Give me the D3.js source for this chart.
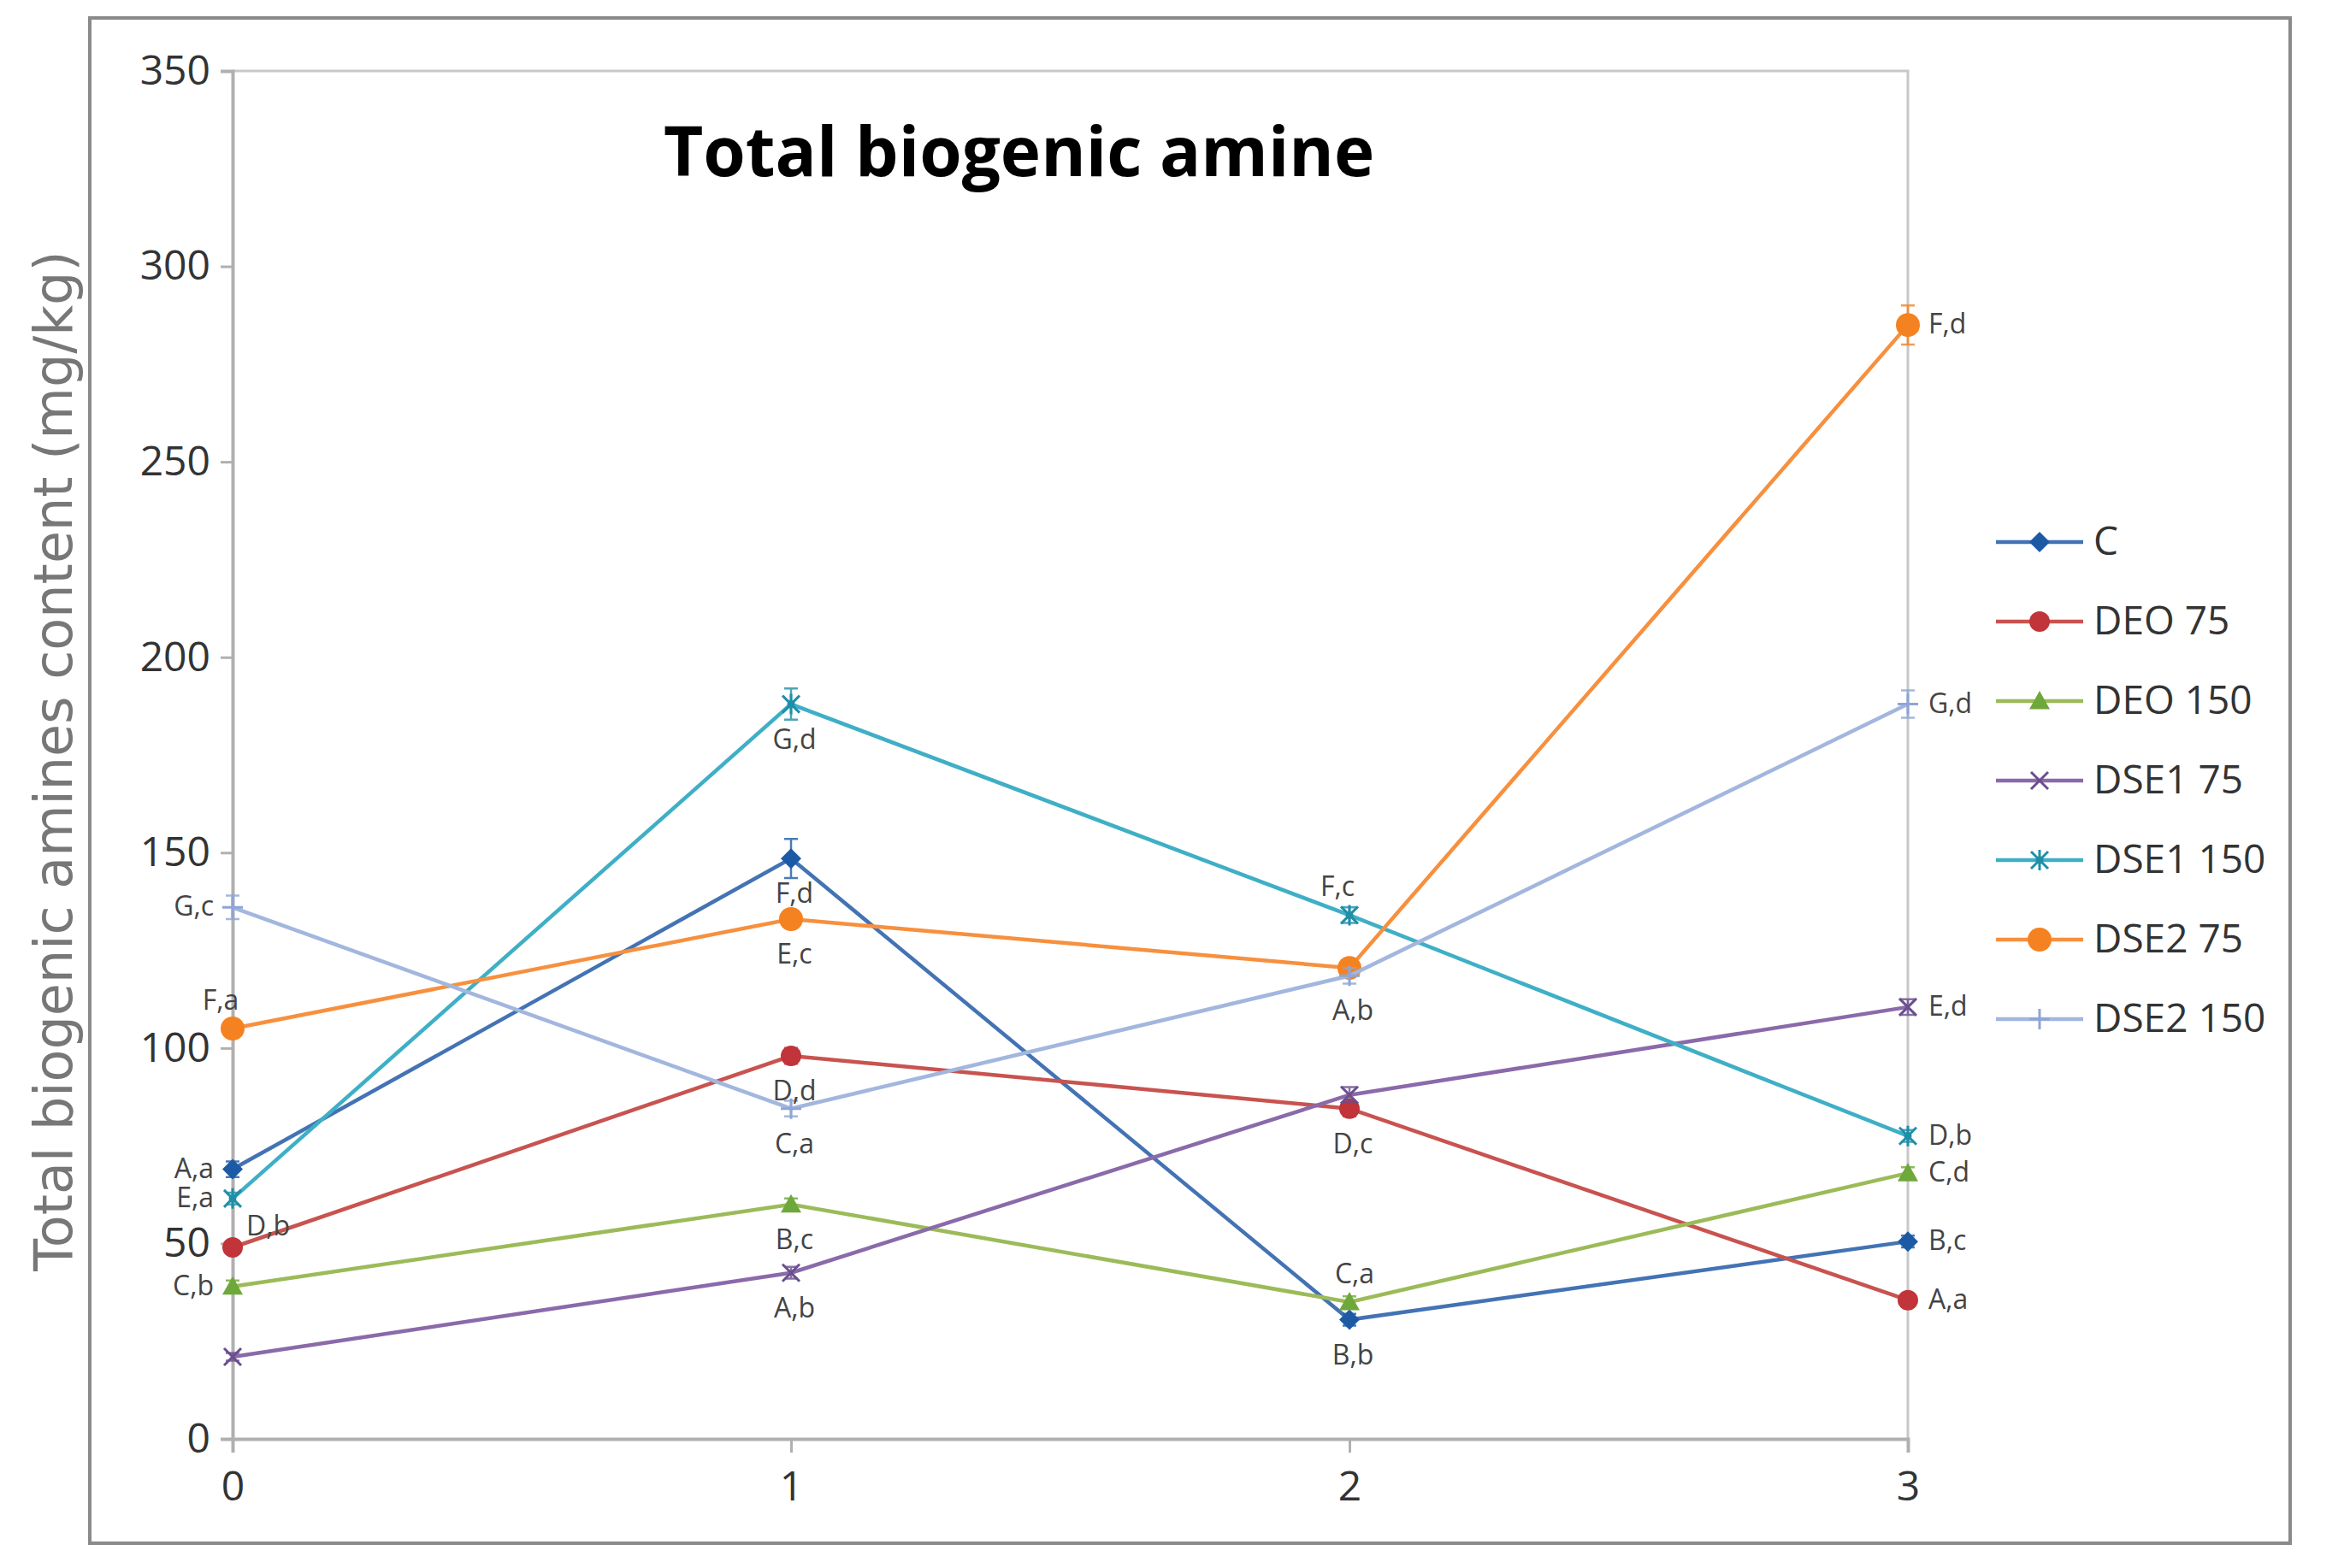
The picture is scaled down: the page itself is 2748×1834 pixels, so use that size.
<!DOCTYPE html>
<html lang="en">
<head>
<meta charset="UTF-8">
<title>Total biogenic amine</title>
<script src="https://cdn.jsdelivr.net/npm/d3@7"></script>
<style>
  body { margin: 0; background: #fff; }
  text { font-family: "Open Sans", sans-serif; }
</style>
</head>
<body>
<div id="chart"></div>
<script>
// storage time (x) and total biogenic amine values (mg/kg)
var times = [0, 1, 2, 3];
var yTicks = [0, 50, 100, 150, 200, 250, 300, 350];
var seriesNames = ["C", "DEO 75", "DEO 150", "DSE1 75", "DSE1 150", "DSE2 75", "DSE2 150"];

var valC       = [69, 148.5, 30.5, 50.5];
var valDEO75   = [49, 98, 84.5, 35.5];
var valDEO150  = [39, 60, 35, 68];
var valDSE175  = [21, 42.5, 88, 110.5];
var valDSE1150 = [61.5, 188, 134, 77.5];
var valDSE275  = [105, 133, 120.5, 285];
var valDSE2150 = [136, 84.5, 118.5, 188];

var errC       = [2, 5, 1.5, 1.5];
var errDEO75   = [1.5, 2, 2, 1.5];
var errDEO150  = [1.5, 1.5, 1.5, 1.5];
var errDSE175  = [1, 1.5, 2, 2];
var errDSE1150 = [1.5, 4, 2, 1.5];
var errDSE275  = [1.5, 2, 2, 5];
var errDSE2150 = [3, 2, 2, 3.5];

var lblC       = ["A,a", "F,d", "B,b", "B,c"];
var lblDEO75   = ["D,b", "D,d", "D,c", "A,a"];
var lblDEO150  = ["C,b", "B,c", "C,a", "C,d"];
var lblDSE175  = ["", "A,b", "", "E,d"];
var lblDSE1150 = ["E,a", "G,d", "F,c", "D,b"];
var lblDSE275  = ["F,a", "E,c", "", "F,d"];
var lblDSE2150 = ["G,c", "C,a", "A,b", "G,d"];

var values = [valC, valDEO75, valDEO150, valDSE175, valDSE1150, valDSE275, valDSE2150];
var errors = [errC, errDEO75, errDEO150, errDSE175, errDSE1150, errDSE275, errDSE2150];
var labels = [lblC, lblDEO75, lblDEO150, lblDSE175, lblDSE1150, lblDSE275, lblDSE2150];

// look of each series
var colors = ["#4373B4", "#C8534F", "#9BBB59", "#8A6AAA", "#3FAFC6", "#F7903E", "#A2B6DE"];
var markerColors = ["#1D5AA6", "#C0343A", "#6FA83A", "#6A4E8E", "#1F8FA8", "#F58220", "#8FA5D6"];
var markers = ["diamond", "circle", "triangle", "x", "star", "bigcircle", "plus"];
// where each point label sits: l = left, r = right, b = below, a = above, al = above-left, br = right of the point, a bit high
var place = [
  ["l", "b", "b", "r"],
  ["br", "b", "b", "r"],
  ["l", "b", "a", "r"],
  ["l", "b", "b", "r"],
  ["l", "b", "al", "r"],
  ["al", "b", "b", "r"],
  ["l", "b", "b", "r"]
];

var W = 2748, H = 1834;
var plotLeft = 272, plotRight = 2231, plotTop = 83, plotBottom = 1683;

var svg = d3.select("#chart").append("svg")
  .attr("width", W).attr("height", H);

// outer chart frame
svg.append("rect")
  .attr("x", 105).attr("y", 21)
  .attr("width", 2573).attr("height", 1784)
  .attr("fill", "#fff").attr("stroke", "#8a8a8a").attr("stroke-width", 4);

var x = d3.scaleLinear().domain([0, 3]).range([plotLeft, plotRight]);
var y = d3.scaleLinear().domain([0, 350]).range([plotBottom, plotTop]);

// plot area border (top & right)
svg.append("path")
  .attr("d", "M" + plotLeft + "," + plotTop + "H" + plotRight + "V" + plotBottom)
  .attr("fill", "none").attr("stroke", "#c8c8c8").attr("stroke-width", 3);

var yAxis = svg.append("g")
  .attr("transform", "translate(" + plotLeft + ",0)")
  .call(d3.axisLeft(y).tickValues(yTicks).tickSize(14).tickPadding(12));
var xAxis = svg.append("g")
  .attr("transform", "translate(0," + plotBottom + ")")
  .call(d3.axisBottom(x).tickValues(times).tickFormat(d3.format("d")).tickSize(16).tickPadding(22));

[yAxis, xAxis].forEach(function(a) {
  a.select(".domain").attr("stroke", "#b0b0b0").attr("stroke-width", 4);
  a.selectAll(".tick line").attr("stroke", "#b0b0b0").attr("stroke-width", 3);
  a.selectAll(".tick text").attr("fill", "#333").style("font-size", "48px")
    .style("font-family", "'Open Sans', sans-serif");
});

// title
svg.append("text")
  .attr("x", 776).attr("y", 206)
  .attr("font-size", 80).attr("font-weight", "bold").attr("fill", "#000")
  .text("Total biogenic amine");

// y axis title
svg.append("text")
  .attr("transform", "translate(84,890) rotate(-90)")
  .attr("text-anchor", "middle")
  .attr("font-size", 62).attr("fill", "#777")
  .style("font-family", "'DejaVu Sans', sans-serif")
  .text("Total biogenic amines content (mg/kg)");

function drawMarker(g, type, cx, cy, col) {
  if (type === "diamond") {
    var r = 12;
    g.append("path").attr("d", "M" + cx + "," + (cy - r) + "L" + (cx + r) + "," + cy + "L" + cx + "," + (cy + r) + "L" + (cx - r) + "," + cy + "Z")
      .attr("fill", col);
  } else if (type === "circle") {
    g.append("circle").attr("cx", cx).attr("cy", cy).attr("r", 12).attr("fill", col);
  } else if (type === "bigcircle") {
    g.append("circle").attr("cx", cx).attr("cy", cy).attr("r", 14).attr("fill", col);
  } else if (type === "triangle") {
    var t = 12;
    g.append("path").attr("d", "M" + cx + "," + (cy - t) + "L" + (cx + t) + "," + (cy + t * 0.8) + "L" + (cx - t) + "," + (cy + t * 0.8) + "Z")
      .attr("fill", col);
  } else if (type === "x" || type === "star") {
    var k = 10;
    var d = "M" + (cx - k) + "," + (cy - k) + "L" + (cx + k) + "," + (cy + k) + "M" + (cx - k) + "," + (cy + k) + "L" + (cx + k) + "," + (cy - k);
    if (type === "star") d += "M" + cx + "," + (cy - k * 1.2) + "V" + (cy + k * 1.2);
    g.append("path").attr("d", d).attr("stroke", col).attr("stroke-width", 3).attr("fill", "none");
    if (type === "star") g.append("circle").attr("cx", cx).attr("cy", cy).attr("r", 4.5).attr("fill", col);
  } else if (type === "plus") {
    var p = 12;
    g.append("path").attr("d", "M" + (cx - p) + "," + cy + "H" + (cx + p) + "M" + cx + "," + (cy - p) + "V" + (cy + p))
      .attr("stroke", col).attr("stroke-width", 3);
  }
}

var line = d3.line()
  .x(function(d, i) { return x(times[i]); })
  .y(function(d) { return y(d); });

var plot = svg.append("g");

values.forEach(function(vals, si) {
  var g = plot.append("g");
  g.append("path").datum(vals)
    .attr("d", line)
    .attr("fill", "none").attr("stroke", colors[si]).attr("stroke-width", 4.5);

  // error bars
  vals.forEach(function(v, i) {
    var e = errors[si][i], cx = x(times[i]);
    g.append("path")
      .attr("d", "M" + cx + "," + y(v - e) + "V" + y(v + e) +
                 "M" + (cx - 8) + "," + y(v + e) + "H" + (cx + 8) +
                 "M" + (cx - 8) + "," + y(v - e) + "H" + (cx + 8))
      .attr("stroke", markerColors[si]).attr("stroke-width", 2.5).attr("fill", "none").attr("opacity", 0.8);
  });

  vals.forEach(function(v, i) {
    drawMarker(g, markers[si], x(times[i]), y(v), markerColors[si]);
  });
});

// point labels
values.forEach(function(vals, si) {
  vals.forEach(function(v, i) {
    var txt = labels[si][i];
    if (!txt) return;
    var cx = x(times[i]), cy = y(v), p = place[si][i];
    var dx = 0, dy = 0, anchor = "middle";
    if (p === "l") { dx = -22; dy = 10; anchor = "end"; }
    if (p === "r") { dx = 24; dy = 10; anchor = "start"; }
    if (p === "b") { dx = 4; dy = 52; }
    if (p === "a") { dx = 6; dy = -22; }
    if (p === "al") { dx = -14; dy = -22; }
    if (p === "br") { dx = 16; dy = -14; anchor = "start"; }
    plot.append("text")
      .attr("x", cx + dx).attr("y", cy + dy)
      .attr("text-anchor", anchor)
      .attr("font-size", 32).attr("fill", "#444")
      .text(txt);
  });
});

// legend
var legend = svg.append("g");
seriesNames.forEach(function(name, si) {
  var ly = 634 + si * 93;
  legend.append("line")
    .attr("x1", 2334).attr("x2", 2436).attr("y1", ly).attr("y2", ly)
    .attr("stroke", colors[si]).attr("stroke-width", 4.5);
  drawMarker(legend, markers[si], 2385, ly, markerColors[si]);
  legend.append("text")
    .attr("x", 2448).attr("y", ly + 15)
    .attr("font-size", 46).attr("fill", "#333")
    .text(name);
});
</script>
</body>
</html>
